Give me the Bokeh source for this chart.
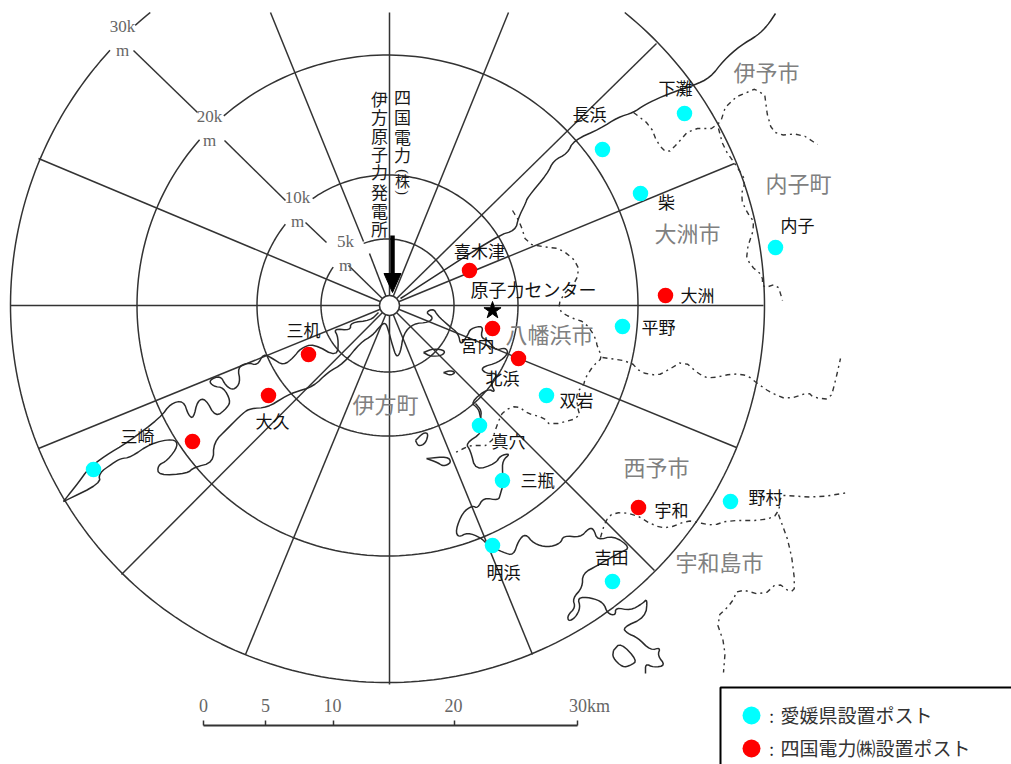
import numpy as np
from bokeh.plotting import figure
from bokeh.models import Range1d
from bokeh.core.properties import value
from bokeh.embed import file_html
from bokeh.resources import INLINE

# map coordinates
plant = (389, 305)
ring_centre = (387, 305)
# ring radius and visible angular stretches (degrees)
rings = [
    (66.5, [(144.7, 471.0)]),
    (130.5, [(141.5, 485.0)]),
    (250.5, [(138.6, 490.8)]),
    (377.0, [(129.0, 132.0), (137.4, 411.0)]),
]
spoke_ends = [(10, 305), (763, 305), (389, 12), (389, 684), (38, 158), (508, 12),
              (656, 43), (734, 163), (736, 447), (654, 570), (532, 654), (245, 654),
              (121, 574), (38, 448)]
spoke_pieces = [
    [(389, 305), (369, 253)], [(363, 241), (270, 12)],
    [(389, 305), (348, 265)], [(326, 242), (305, 222)],
    [(285, 200), (224, 140)], [(197, 112), (133, 50)],
]
coast = [
    [(63, 501), (100, 483), (98, 473), (112, 463), (120, 458), (130, 457), (150, 443), (173, 438),
     (178, 445), (167, 460), (157, 465), (158, 475), (187, 473), (193, 467), (213, 462), (213, 442),
     (227, 428), (243, 412), (250, 408), (267, 407), (283, 397), (293, 392), (313, 386), (327, 372),
     (343, 363), (360, 342), (372, 335), (380, 325), (385, 322), (388, 330), (392, 345), (396, 357),
     (400, 352), (403, 333), (413, 323), (428, 322), (433, 317), (425, 312), (433, 308), (437, 315),
     (448, 325), (458, 333), (460, 345), (467, 335), (470, 328), (483, 325), (480, 337), (488, 340),
     (495, 350), (505, 347), (508, 353), (498, 362), (480, 367), (485, 373), (498, 373), (490, 383),
     (495, 392), (487, 388), (470, 402), (478, 408), (480, 417)],
    [(63, 501), (70, 492), (78, 482), (88, 468), (105, 455), (127, 442), (160, 417), (170, 403),
     (183, 400), (188, 415), (193, 418), (197, 400), (205, 398), (215, 417), (227, 407), (230, 400),
     (223, 387), (213, 386), (208, 380), (220, 375), (225, 385), (233, 390), (240, 382), (237, 367),
     (247, 362), (257, 365), (263, 353), (272, 358), (283, 365), (293, 357), (300, 348), (313, 343),
     (337, 357), (338, 337), (333, 328), (350, 330), (350, 322), (370, 320), (378, 312)],
    [(423, 352), (433, 348), (445, 350), (442, 355), (430, 356), (423, 352)],
    [(443, 372), (450, 370), (455, 372), (450, 375), (443, 372)],
    [(415, 440), (423, 432), (428, 433), (425, 443), (418, 446), (415, 440)],
    [(426, 458), (447, 456), (451, 462), (443, 466), (437, 462), (426, 458)],
    [(475, 403), (481, 410), (480, 418), (482, 432), (465, 443), (470, 450), (475, 470), (495, 463),
     (500, 455), (510, 453), (502, 460), (502, 473), (503, 483), (500, 493), (498, 500), (483, 497),
     (477, 508), (472, 505), (462, 512), (455, 530), (458, 537), (467, 532), (480, 537), (488, 545),
     (503, 552), (513, 555), (518, 540), (525, 533), (533, 543), (547, 547), (560, 543), (563, 535),
     (580, 537), (588, 528), (593, 528), (597, 540), (613, 535), (630, 547), (620, 552), (605, 560),
     (597, 565), (582, 573), (582, 587), (572, 598), (575, 607), (567, 615), (568, 621), (575, 617),
     (580, 607), (577, 597), (590, 597), (603, 602), (607, 613), (615, 615), (615, 607), (630, 610),
     (642, 603), (647, 598), (645, 617), (622, 627), (627, 633), (637, 637), (650, 650), (660, 647),
     (657, 655), (665, 665), (653, 667), (645, 663), (645, 673)],
    [(613, 650), (620, 642), (637, 660), (630, 665), (622, 667), (612, 657), (613, 650)],
    [(400, 298), (497, 235), (515, 230), (518, 217), (525, 203), (527, 197), (547, 173), (553, 160),
     (567, 153), (573, 140), (600, 128), (617, 117), (633, 112), (643, 105), (657, 98), (677, 90),
     (693, 85), (710, 77), (723, 60), (740, 45), (757, 35), (767, 25), (775, 13)],
]
borders = [
    [(512, 210), (520, 223), (526, 243), (547, 247), (560, 248), (578, 263), (577, 280), (560, 297),
     (558, 310), (570, 317), (585, 322), (595, 337), (597, 347), (602, 357), (593, 365), (585, 377),
     (583, 385), (576, 392), (577, 407), (580, 417), (550, 425), (543, 417), (527, 413), (517, 405),
     (503, 410), (497, 423), (490, 445), (470, 445), (465, 447), (455, 452)],
    [(602, 357), (630, 361), (640, 372), (657, 375), (667, 370), (683, 360), (700, 375), (710, 378),
     (733, 373), (747, 375), (757, 383), (770, 392), (787, 399), (808, 392), (813, 397), (830, 399),
     (835, 380), (840, 358)],
    [(633, 112), (650, 125), (657, 143), (667, 153), (677, 143), (690, 128), (718, 128), (727, 100),
     (763, 85), (768, 123), (777, 135), (800, 133), (817, 144)],
    [(718, 128), (723, 147), (737, 167), (745, 180), (740, 197), (747, 213), (755, 223), (745, 253),
     (750, 265), (762, 275), (762, 288), (777, 283), (782, 300)],
    [(600, 537), (605, 520), (613, 512), (633, 513), (653, 525), (667, 528), (687, 520), (697, 522),
     (713, 525), (727, 520), (763, 520), (778, 514), (780, 495), (785, 495), (817, 497), (848, 492)],
    [(778, 514), (790, 547), (795, 587), (790, 592), (777, 582), (763, 595), (737, 588), (732, 602),
     (715, 618), (725, 647), (723, 672)],
]
county_posts = [(684, 113), (602, 149), (640, 193), (775, 247), (622, 326), (546, 395),
                (479, 425), (502, 480), (730, 501), (492, 545), (612, 581), (93, 469)]
utility_posts = [(469, 270), (665, 295), (492, 328), (518, 358), (308, 354), (268, 395),
                 (192, 441), (638, 507)]
station_names = ["下灘", "長浜", "柴", "内子", "大洲", "平野", "喜木津", "宮内", "北浜",
                 "双岩", "真穴", "三瓶", "宇和", "野村", "吉田", "明浜", "三机", "大久", "三崎"]
station_xy = [(675, 87), (589, 113), (666, 201), (797, 224), (697, 294), (658, 326), (479, 250),
              (477, 344), (502, 377), (576, 399), (508, 440), (537, 479), (671, 509),
              (765, 496), (611, 556), (503, 571), (303, 329), (272, 420), (137, 435)]
centre_name = ["原子力センター"]
centre_xy = [(533, 288)]
town_names = ["伊予市", "内子町", "大洲市", "八幡浜市", "西予市", "宇和島市", "伊方町"]
town_xy = [(766, 70), (798, 181), (687, 231), (549, 332), (656, 465), (719, 560), (385, 402)]
ring_labels = ["30k", "m", "20k", "m", "10k", "m", "5k", "m"]
ring_label_xy = [(122, 26), (122, 50), (209, 116), (209, 140), (297, 197), (297, 221), (345, 241), (345, 265)]
title_right = ["四", "国", "電", "力", "株"]
title_right_y = [96, 116, 136, 154, 180]
title_parens = ["(", ")"]
title_parens_y = [171, 192]
title_left = ["伊", "方", "原", "子", "力", "発", "電", "所"]
title_left_y = [98, 116, 135, 153, 171, 191, 210, 228]
scale_km = ["0", "5", "10", "20", "30km"]
scale_x = [203, 265, 333, 454, 577]
scale_label_x = [203, 265, 332, 453, 589]
legend_labels = ["愛媛県設置ポスト", "四国電力㈱設置ポスト"]

JP = value("Noto Sans CJK JP")
SERIF = value("Liberation Serif")
INK = "#333333"

p = figure(width=1011, height=764, output_backend="svg", toolbar_location=None,
           x_range=Range1d(0, 1011), y_range=Range1d(764, 0), min_border=0,
           x_axis_type=None, y_axis_type=None, outline_line_color=None,
           background_fill_color="white")
p.grid.visible = False


def xs(seq):
    return [q[0] for q in seq]


def ys(seq):
    return [q[1] for q in seq]


def rounded(seq, rounds=2):
    """Corner-cut a traced outline so it draws as a soft hand-drawn curve."""
    pts = np.asarray(seq, dtype=float)
    for _ in range(rounds):
        a, b = pts[:-1], pts[1:]
        cut = np.empty((2 * len(a), 2))
        cut[0::2] = 0.75 * a + 0.25 * b
        cut[1::2] = 0.25 * a + 0.75 * b
        pts = np.vstack([pts[:1], cut, pts[-1:]])
    return pts


# rings
rx, ry = [], []
for r, stretches in rings:
    for a, b in stretches:
        t = np.radians(np.linspace(a, b, 240))
        rx.append(ring_centre[0] + r * np.cos(t))
        ry.append(ring_centre[1] - r * np.sin(t))
p.multi_line(rx, ry, line_color=INK, line_width=1.5)

# spokes
sx = [[plant[0], e[0]] for e in spoke_ends] + [xs(s) for s in spoke_pieces]
sy = [[plant[1], e[1]] for e in spoke_ends] + [ys(s) for s in spoke_pieces]
p.multi_line(sx, sy, line_color=INK, line_width=1.5)

# coast and borders
coast_r = [rounded(c) for c in coast]
border_r = [rounded(c, 1) for c in borders]
p.multi_line([c[:, 0] for c in coast_r], [c[:, 1] for c in coast_r], line_color="#2a2a2a", line_width=1.5,
             line_join="round")
p.multi_line([c[:, 0] for c in border_r], [c[:, 1] for c in border_r], line_color="#333333", line_width=1.4,
             line_dash="5 4 2 4")

# plant hub and arrow
p.line([392, 392], [235, 275], line_color="black", line_width=4.5)
p.patch([383.5, 400.5, 392], [273, 273, 292], fill_color="black", line_color="black")
p.scatter([plant[0]], [plant[1]], size=20, marker="circle", fill_color="white", line_color=INK, line_width=1.5)

# posts
p.scatter(xs(county_posts), ys(county_posts), size=15.5, marker="circle", fill_color="#00ffff", line_color=None)
p.scatter(xs(utility_posts), ys(utility_posts), size=15.5, marker="circle", fill_color="#ff0000", line_color=None)
p.scatter([492], [310], size=18, marker="star", fill_color="black", line_color="black")

# texts
p.text(xs(station_xy), ys(station_xy), text=station_names, text_font=JP, text_font_size="17px",
       text_color="#111111", text_align="center", text_baseline="middle")
p.text(xs(centre_xy), ys(centre_xy), text=centre_name, text_font=JP, text_font_size="18px",
       text_color="#111111", text_align="center", text_baseline="middle")
p.text(xs(town_xy), ys(town_xy), text=town_names, text_font=JP, text_font_size="22px",
       text_color="#808080", text_align="center", text_baseline="middle")
p.text(xs(ring_label_xy), ys(ring_label_xy), text=ring_labels, text_font=SERIF, text_font_size="17px",
       text_color="#666666", text_align="center", text_baseline="middle")
p.text([402] * 4, title_right_y[:4], text=title_right[:4], text_font=JP, text_font_size="17px",
       text_color="#1a1a1a", text_align="center", text_baseline="middle")
p.text([402], title_right_y[4:], text=title_right[4:], text_font=JP, text_font_size="15px",
       text_color="#1a1a1a", text_align="center", text_baseline="middle")
p.text([402, 402], title_parens_y, text=title_parens, text_font=SERIF, text_font_size="14px",
       text_color="#1a1a1a", text_align="center", text_baseline="middle", angle=-np.pi / 2)
p.text([379] * 8, title_left_y, text=title_left, text_font=JP, text_font_size="17px",
       text_color="#1a1a1a", text_align="center", text_baseline="middle")

# scale bar
p.line([scale_x[0], scale_x[-1]], [725, 725], line_color="#333333", line_width=2)
p.multi_line([[x, x] for x in scale_x], [[720, 725]] * len(scale_x), line_color="#333333", line_width=1.5)
p.text(scale_label_x, [705] * 5, text=scale_km, text_font=SERIF, text_font_size="18px",
       text_color="#666666", text_align="center", text_baseline="middle")

# legend box
p.line([1011, 720, 720], [687, 687, 764], line_color="black", line_width=2)
p.scatter([751], [715], size=18, marker="circle", fill_color="#00ffff", line_color=None)
p.scatter([751], [748], size=18, marker="circle", fill_color="#ff0000", line_color=None)
p.text([771, 771], [715, 748], text=[":", ":"], text_font=JP, text_font_size="17px",
       text_color="#222222", text_align="center", text_baseline="middle")
p.text([780, 780], [714, 747], text=legend_labels, text_font=JP, text_font_size="19px",
       text_color="#333333", text_align="left", text_baseline="middle")

open("out.html", "w").write(file_html(p, INLINE))
